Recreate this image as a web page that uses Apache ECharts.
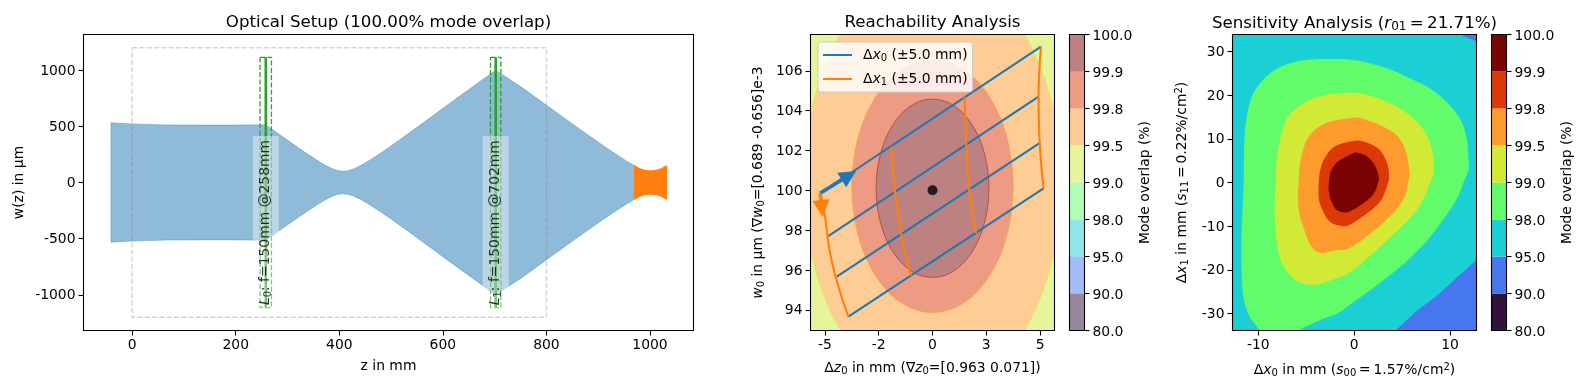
<!DOCTYPE html>
<html><head><meta charset="utf-8">
<style>html,body{margin:0;padding:0;background:#fff}#c{width:1584px;height:390px}</style>
<script src="https://cdn.jsdelivr.net/npm/echarts@6/dist/echarts.min.js"></script>
</head><body><div id="c"></div>
<script>
// ---------- data: optical setup ----------
const beamZ = [-41,0,66,130,200,258,283,308,333,358,373,388,398,408,418,428,443,458,483,508,558,608,658,702,753,803,853,903,928,953,970];
const beamW = [531,522,513,511,511,514,432,351,271,195,154,120,105,100,106,121,155,197,272,352,518,687,854,1000,845,678,513,350,271,197,150];
const focusZ = [970,980,990,1001,1012,1022,1032];
const focusW = [150,124,108,103,108,124,150];
const boundaryZ = [0,800,800,0,0];
const boundaryW = [1200,1200,-1200,-1200,1200];
const lensPos = [258,702];
const lensHalfWidth = [11,10];
const lensReach = 1115;
const lensLabelW = [-365,-367];
const lensLabels = ['{i|L}{s|0}{n|: f=150mm @258mm}','{i|L}{s|1}{n|: f=150mm @702mm}'];
const ticksZ = [0,200,400,600,800,1000];
const ticksW = [-1000,-500,0,500,1000];

// ---------- data: colour scale ----------
const levelLabels = ['80.0','90.0','95.0','98.0','99.0','99.5','99.8','99.9','100.0'];
const levelIdx = [0,1,2,3,4,5,6,7,8];
const turbo = ['#30123b','#4777ef','#1bd0d5','#62fc6b','#d2e935','#fe9b2d','#db3a07','#7a0403'];

// ---------- data: reachability ----------
const reachXTicks = [-5,-2.5,0,2.5,5];
const reachXLabels = ['-5','-2','0','3','5'];
const reachYTicks = [94,96,98,100,102,104,106];
const reach99 = [[-7,91],[7,91],[7,109],[-7,109]];
const reach995 = [[5.98,100.4],[5.78,103.14],[5.18,105.7],[4.23,107.9],[2.99,109.58],[1.55,110.64],[0,111],[-1.55,110.64],[-2.99,109.58],[-4.23,107.9],[-5.18,105.7],[-5.78,103.14],[-5.98,100.4],[-5.78,97.66],[-5.18,95.1],[-4.23,92.9],[-2.99,91.22],[-1.55,90.16],[0,89.8],[1.55,90.16],[2.99,91.22],[4.23,92.9],[5.18,95.1],[5.78,97.66]];
const reach998 = [[3.75,100.2],[3.62,101.84],[3.25,103.37],[2.65,104.68],[1.88,105.69],[0.97,106.32],[0,106.54],[-0.97,106.32],[-1.88,105.69],[-2.65,104.68],[-3.25,103.37],[-3.62,101.84],[-3.75,100.2],[-3.62,98.56],[-3.25,97.03],[-2.65,95.72],[-1.88,94.71],[-0.97,94.08],[0,93.86],[0.97,94.08],[1.88,94.71],[2.65,95.72],[3.25,97.03],[3.62,98.56]];
const reach999 = [[2.62,100.1],[2.53,101.26],[2.27,102.34],[1.85,103.27],[1.31,103.98],[0.68,104.43],[0,104.57],[-0.68,104.43],[-1.31,103.98],[-1.85,103.27],[-2.27,102.34],[-2.53,101.26],[-2.62,100.1],[-2.53,98.94],[-2.27,97.86],[-1.85,96.93],[-1.31,96.22],[-0.68,95.77],[0,95.63],[0.68,95.77],[1.31,96.22],[1.85,96.93],[2.27,97.86],[2.53,98.94]];
const blue0 = [[-5.22,99.85],[5.04,107.21]];
const blue1 = [[-4.88,97.67],[4.93,104.70]];
const blue2 = [[-4.45,95.67],[5.01,102.39]];
const blue3 = [[-3.91,93.66],[5.16,100.10]];
const orange0 = [[-5.22,99.85],[-5.02,98.85],[-4.76,96.84],[-4.37,95.16],[-3.91,93.66]];
const orange1 = [[-1.91,102.19],[-1.71,99.68],[-1.43,97.67],[-1.01,95.70]];
const orange2 = [[1.49,104.67],[1.57,102.36],[1.71,100.02],[2.02,97.84]];
const orange3 = [[5.04,107.21],[4.93,104.70],[4.98,102.39],[5.16,100.10]];
const arrowBlue = [[-5.22,99.85],[-3.55,100.97]];
const arrowOrange = [[-5.22,99.85],[-5.10,98.66]];
const optimum = [[0,100]];

// ---------- data: sensitivity ----------
const sensXTicks = [-10,0,10];
const sensYTicks = [-30,-20,-10,0,10,20,30];
const sens95 = [[-14,-36],[14,-36],[14,36],[-14,36]];
const sensBlueLow = [[13.5,-17.5],[12.68,-17.92],[10.66,-21.88],[8.75,-25.7],[6.49,-29.5],[4.4,-33.7],[4,-34.5],[13.5,-34.5]];
const sensBlueHigh = [[11,34.5],[11.12,33.8],[12,33],[13.5,31.7],[13.5,34.5]];
const sens98 = [[-11.53,-0.5],[-11.5,6.72],[-11.36,12.82],[-10.91,18.17],[-10.21,21.6],[-9.17,24.26],[-7.78,26.4],[-6.04,27.7],[-4.12,28.23],[-2.04,28.3],[-0.12,28.08],[1.62,27.3],[3.71,25.95],[5.79,23.9],[7.88,21.6],[9.62,18.54],[11.01,14.73],[11.71,10.53],[11.92,5.96],[11.92,2.9],[11.53,0.62],[10.66,-3.96],[9.27,-8.54],[7.53,-13.49],[5.45,-18.07],[3.36,-21.88],[1.27,-25.3],[-0.47,-28],[-1.69,-29.9],[-3.43,-31.4],[-5.69,-33.7],[-6.6,-35],[-9,-35],[-9.86,-33.7],[-10.91,-30.66],[-11.5,-26.84],[-11.71,-22.27],[-11.78,-14.64],[-11.67,-7]];
const sens99 = [[-8.19,-0.5],[-8.12,4.43],[-7.78,9.39],[-7.08,14.35],[-6.04,17.02],[-4.47,19.08],[-2.38,20.3],[0.05,20.53],[1.62,19.92],[3.36,18.54],[5.27,16.25],[6.84,13.2],[7.81,9.77],[8.23,5.96],[8.3,2.14],[8.05,0.62],[7.19,-3.96],[5.97,-7.77],[4.05,-11.97],[1.97,-16.16],[-0.47,-20.59],[-2.04,-22.1],[-4.12,-23.41],[-5.86,-22.65],[-7.25,-19.6],[-7.95,-15.4],[-8.3,-7]];
const sens995 = [[-5.79,-0.5],[-5.69,3.67],[-5.17,8.63],[-4.3,11.68],[-2.73,13.74],[0.05,14.88],[1.27,14.35],[3.01,12.82],[4.58,10.53],[5.45,6.72],[5.79,2.14],[5.69,0.62],[5.27,-3.2],[4.05,-7],[1.97,-11.2],[-0.47,-15.02],[-2.04,-15.55],[-3.43,-16.16],[-4.47,-14.64],[-5.34,-10.06],[-5.79,-6.25],[-5.86,-1.67]];
const sens998 = [[-3.71,-0.5],[-3.53,2.9],[-3.08,5.58],[-2.04,8.25],[0.05,9.54],[1.27,9.16],[2.66,7.48],[3.43,4.43],[3.64,1.76],[3.53,-0.14],[2.84,-3.96],[1.62,-6.63],[-0.47,-9.68],[-1.51,-9.91],[-2.56,-8.92],[-3.25,-6.63],[-3.67,-3.96]];
const sens999 = [[-2.66,-0.5],[-2.45,2.52],[-1.69,4.81],[-0.12,6.72],[0.23,6.87],[1.27,6.11],[2.14,4.05],[2.56,1.38],[2.49,-0.14],[1.97,-2.81],[0.75,-5.1],[-0.47,-6.63],[-0.99,-6.86],[-1.86,-6.25],[-2.45,-3.96],[-2.66,-1.67]];

// ---------- text ----------
const FF = '"DejaVu Sans"', FS = 13.9;
const rich = {
  n:{fontFamily:FF,fontSize:FS,color:'#000'},
  i:{fontFamily:FF,fontSize:FS,fontStyle:'italic',color:'#000'},
  s:{fontFamily:FF,fontSize:10,color:'#000',padding:[6,0,0,0]},
  u:{fontFamily:FF,fontSize:10,color:'#000',padding:[0,0,6,0]},
  g:{width:6,fontSize:FS}
};
const richT = {
  n:{fontFamily:FF,fontSize:16.67,color:'#000'},
  i:{fontFamily:FF,fontSize:16.67,fontStyle:'italic',color:'#000'},
  s:{fontFamily:FF,fontSize:12,color:'#000',padding:[7,0,0,0]}
};
const legendNames = {'Δx0 (±5.0 mm)':'{g|}{n|Δ}{i|x}{s|0}{n| (±5.0 mm)}','Δx1 (±5.0 mm)':'{g|}{n|Δ}{i|x}{s|1}{n| (±5.0 mm)}'};

// ---------- layout ----------
const GR = [
  {left:83.5,top:34.5,width:610,height:296},
  {left:810.5,top:34.5,width:244,height:296},
  {left:1069.5,top:34.5,width:15,height:296},
  {left:1232.5,top:34.5,width:244,height:296},
  {left:1491.5,top:34.5,width:15,height:296}
].map(g=>Object.assign({show:true,containLabel:false,z:10,borderColor:'#000',borderWidth:1.1,backgroundColor:'transparent'},g));

function axisBase(g,vals,labels,drop){
  const tokenOf = v => labels ? labels[vals.indexOf(v)] : String(v);
  const f = drop ? (v=>'{a|'+tokenOf(v)+'}') : tokenOf;
  const lab = {show:true,color:'#000',fontFamily:FF,fontSize:FS,margin:8,formatter:f,customValues:vals,hideOverlap:false};
  if(drop) lab.rich = {a:{fontFamily:FF,fontSize:FS,color:'#000',padding:[drop,0,0,0]}};
  return {gridIndex:g,type:'value',z:11,splitLine:{show:false},axisLine:{show:false,onZero:false},
    axisTick:{show:true,length:5,lineStyle:{color:'#000',width:1.1},customValues:vals},
    axisLabel:lab};
}
const nameStyle = {rich:rich,fontFamily:FF,fontSize:FS,color:'#000'};
const Y_DROP = 2, CB_DROP = 4;
const xAxes = [
  Object.assign(axisBase(0,ticksZ),{min:-94,max:1084,name:'{n|z in mm}',nameLocation:'middle',nameGap:29,nameTextStyle:nameStyle}),
  Object.assign(axisBase(1,reachXTicks,reachXLabels),{min:-5.67,max:5.67,name:'{n|Δ}{i|z}{s|0}{n| in mm (∇}{i|z}{s|0}{n|=[0.963 0.071])}',nameLocation:'middle',nameGap:30,nameTextStyle:nameStyle}),
  {gridIndex:2,type:'value',min:0,max:1,show:false},
  Object.assign(axisBase(3,sensXTicks),{min:-12.7,max:12.77,name:'{n|Δ}{i|x}{s|0}{n| in mm (}{i|s}{s|00}{n|\u2009=\u20091.57%/cm}{u|2}{n|)}',nameLocation:'middle',nameGap:32,nameTextStyle:nameStyle}),
  {gridIndex:4,type:'value',min:0,max:1,show:false}
];
function cbAxis(g){
  return Object.assign(axisBase(g,levelIdx,levelLabels,CB_DROP),{position:'right',min:0,max:8,name:'{n|Mode overlap (%)}',nameLocation:'middle',nameRotate:90,nameGap:54,nameTextStyle:nameStyle});
}
const yAxes = [
  Object.assign(axisBase(0,ticksW,null,Y_DROP),{min:-1318,max:1318,name:'{n|w(z) in µm}',nameLocation:'middle',nameGap:57,nameTextStyle:nameStyle}),
  Object.assign(axisBase(1,reachYTicks,null,Y_DROP),{min:92.96,max:107.82,name:'{i|w}{s|0}{n| in µm (∇}{i|w}{s|0}{n|=[0.689 -0.656]e-3}',nameLocation:'middle',nameGap:44,nameTextStyle:nameStyle}),
  cbAxis(2),
  Object.assign(axisBase(3,sensYTicks,null,Y_DROP),{min:-33.9,max:33.9,name:'{n|Δ}{i|x}{s|1}{n| in mm (}{i|s}{s|11}{n|\u2009=\u20090.22%/cm}{u|2}{n|)}',nameLocation:'middle',nameGap:42,nameTextStyle:nameStyle}),
  cbAxis(4)
];

// ---------- series helpers ----------
// closed Catmull-Rom through the read points, in pixel space, so contours render without corners
function closedCurve(p){
  const out=[],n=p.length;
  for(let i=0;i<n;i++){
    const a=p[(i-1+n)%n],b=p[i],c=p[(i+1)%n],d=p[(i+2)%n];
    for(let k=0;k<8;k++){
      const t=k/8,t2=t*t,t3=t2*t;
      out.push([0,1].map(j=>0.5*(2*b[j]+(c[j]-a[j])*t+(2*a[j]-5*b[j]+4*c[j]-d[j])*t2+(3*b[j]-a[j]-3*c[j]+d[j])*t3)));
    }
  }
  return out;
}
function poly(g,pts,fill,stroke,z,curved,lw){
  return {type:'custom',coordinateSystem:'cartesian2d',xAxisIndex:g,yAxisIndex:g,clip:true,silent:true,z:z,data:pts,encode:{x:0,y:1},
    renderItem:(p,api)=>{
      if(p.dataIndex) return null;
      const px=pts.map(q=>api.coord(q));
      return {type:'polygon',shape:{points:curved?closedCurve(px):px},style:{fill:fill,stroke:stroke||null,lineWidth:lw||1}};
    }};
}
function line(g,name,pts,color,width,dash,z,smooth){
  return {type:'line',name:name,xAxisIndex:g,yAxisIndex:g,data:pts,showSymbol:false,symbol:'none',silent:true,z:z,smooth:smooth||false,
    lineStyle:{color:color,width:width,type:dash?dash:'solid',cap:'butt'},itemStyle:{color:color},clip:true};
}
function arrow(g,pts,color,z){
  return {type:'custom',coordinateSystem:'cartesian2d',xAxisIndex:g,yAxisIndex:g,silent:true,z:z,data:pts,encode:{x:0,y:1},clip:false,
    renderItem:(p,api)=>{
      if(p.dataIndex) return null;
      const a=api.coord(pts[0]),b=api.coord(pts[1]);
      const dx=b[0]-a[0],dy=b[1]-a[1],L=Math.hypot(dx,dy),ux=dx/L,uy=dy/L,nx=-uy,ny=ux;
      const hl=17,hw=8.5,sw=1.9;
      const bx=b[0]-ux*hl,by=b[1]-uy*hl;
      return {type:'polygon',shape:{points:[[a[0]+nx*sw,a[1]+ny*sw],[bx+nx*sw,by+ny*sw],[bx+nx*hw,by+ny*hw],b,[bx-nx*hw,by-ny*hw],[bx-nx*sw,by-ny*sw],[a[0]-nx*sw,a[1]-ny*sw]]},style:{fill:color}};
    }};
}
function colorbar(g,opacity){
  return {type:'custom',coordinateSystem:'cartesian2d',xAxisIndex:g,yAxisIndex:g,silent:true,z:2,data:turbo.map((c,i)=>[0,i]),encode:{x:0,y:1},
    renderItem:(p,api)=>{
      const i=p.dataIndex,a=api.coord([0,i]),b=api.coord([1,i+1]);
      return {type:'rect',shape:{x:a[0],y:b[1],width:b[0]-a[0],height:a[1]-b[1]},style:{fill:turbo[i],opacity:opacity}};
    }};
}
const zipPts=(a,b)=>a.map((v,i)=>[v,b[i]]);
const beamPts = zipPts(beamZ,beamW).concat(zipPts(beamZ,beamW).reverse().map(p=>[p[0],-p[1]]));
const focusPts = zipPts(focusZ,focusW).concat(zipPts(focusZ,focusW).reverse().map(p=>[p[0],-p[1]]));

const series = [
  poly(0,beamPts,'rgba(31,119,180,0.5)','rgba(31,119,180,0.35)',2,false,1),
  poly(0,focusPts,'#ff7f0e','#ff7f0e',3,false,1),
  line(0,'boundary',zipPts(boundaryZ,boundaryW),'rgba(128,128,128,0.35)',1.4,[5.1,2.2],4)
];
lensPos.forEach((z,i)=>{
  const h=lensHalfWidth[i];
  series.push(line(0,'lens',[[z,-lensReach],[z,lensReach]],'#2ca02c',2.6,null,5));
  series.push(line(0,'lensbox',[[z-h,lensReach],[z+h,lensReach],[z+h,-lensReach],[z-h,-lensReach],[z-h,lensReach]],'#2ca02c',1.3,[5.1,2.2],5));
  series.push({type:'scatter',xAxisIndex:0,yAxisIndex:0,symbolSize:1,itemStyle:{color:'transparent'},silent:true,z:6,
    data:[[z,lensLabelW[i]]],
    label:{show:true,position:'inside',rotate:90,formatter:lensLabels[i],rich:rich,backgroundColor:'rgba(255,255,255,0.5)',padding:[5,4,5,6]}});
});
series.push(
  poly(1,reach99,'#e8f49a',null,2),
  poly(1,reach995,'#fecd96','rgba(210,233,53,0.6)',2.1,true),
  poly(1,reach998,'#ed9c83','rgba(254,155,45,0.6)',2.2,true),
  poly(1,reach999,'#bc8181','rgba(170,50,40,0.7)',2.3,true)
);
[blue0,blue1,blue2,blue3].forEach(b=>series.push(line(1,'Δx0 (±5.0 mm)',b,'#1f77b4',2.08,null,3)));
[orange0,orange1,orange2,orange3].forEach(b=>series.push(line(1,'Δx1 (±5.0 mm)',b,'#ff7f0e',2.08,null,4,0.4)));
series.push(arrow(1,arrowBlue,'#1f77b4',5),arrow(1,arrowOrange,'#ff7f0e',5));
series.push({type:'scatter',xAxisIndex:1,yAxisIndex:1,data:optimum,symbolSize:10,itemStyle:{color:'#000'},silent:true,z:6});
series.push(colorbar(2,0.5));
series.push(
  poly(3,sens95,turbo[2],null,2),
  poly(3,sensBlueLow,turbo[1],null,2.1),
  poly(3,sensBlueHigh,turbo[1],null,2.1),
  poly(3,sens98,turbo[3],null,2.2,true),
  poly(3,sens99,turbo[4],null,2.3,true),
  poly(3,sens995,turbo[5],null,2.4,true),
  poly(3,sens998,turbo[6],null,2.5,true),
  poly(3,sens999,turbo[7],null,2.6,true)
);
series.push(colorbar(4,1));

function title(text,cx){
  return {text:text,left:cx,top:14,padding:0,textAlign:'center',textStyle:{rich:richT,fontFamily:FF,fontSize:16.67,fontWeight:'normal',color:'#000'}};
}
const chart = echarts.init(document.getElementById('c'),null,{renderer:'canvas'});
chart.setOption({
  animation:false,backgroundColor:'#fff',
  title:[title('{n|Optical Setup (100.00% mode overlap)}',388.5),title('{n|Reachability Analysis}',932.5),title('{n|Sensitivity Analysis (}{i|r}{s|01}{n|\u2009=\u200921.71%)}',1354.5)],
  grid:GR,xAxis:xAxes,yAxis:yAxes,series:series,tooltip:{show:false},
  legend:{show:true,data:['Δx0 (±5.0 mm)','Δx1 (±5.0 mm)'],orient:'vertical',left:818,top:42,padding:[6,5,5,5],icon:'rect',itemWidth:29,itemHeight:2,itemGap:9,
    backgroundColor:'rgba(255,255,255,0.8)',borderColor:'#ccc',borderWidth:1,borderRadius:3,selectedMode:false,z:20,
    formatter:n=>legendNames[n],textStyle:{rich:rich,fontFamily:FF,fontSize:FS,color:'#000'}}
});
</script></body></html>
